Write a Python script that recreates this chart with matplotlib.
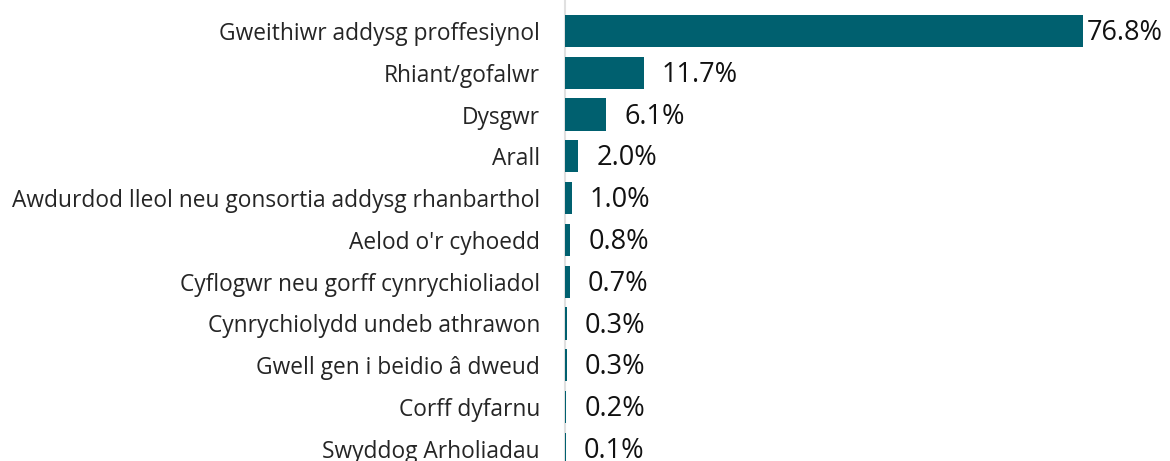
import matplotlib.pyplot as plt

plt.rcParams['font.family'] = ['Open Sans', 'DejaVu Sans']

categories = [
    'Gweithiwr addysg proffesiynol',
    'Rhiant/gofalwr',
    'Dysgwr',
    'Arall',
    'Awdurdod lleol neu gonsortia addysg rhanbarthol',
    "Aelod o'r cyhoedd",
    'Cyflogwr neu gorff cynrychioliadol',
    'Cynrychiolydd undeb athrawon',
    'Gwell gen i beidio â dweud',
    'Corff dyfarnu',
    'Swyddog Arholiadau',
]
values = [76.8, 11.7, 6.1, 2.0, 1.0, 0.8, 0.7, 0.3, 0.3, 0.2, 0.1]

bar_color = '#00606f'

fig = plt.figure(figsize=(11.7, 4.61), dpi=100)
ax = fig.add_axes([565 / 1170, 0, 605 / 1170, 1])

pos = list(range(len(categories)))
ax.barh(pos, values, height=0.77, color=bar_color, zorder=2)

ax.set_xlim(0, 89.7)
ax.set_ylim(10.29, -0.74)

ax.set_yticks(pos)
ax.set_yticklabels(categories, fontsize=16.4, color='#252525')
ax.tick_params(axis='y', length=0, pad=18)
ax.set_xticks([])

for s in ['top', 'right', 'bottom']:
    ax.spines[s].set_visible(False)
ax.spines['left'].set_color('#e0e0e0')
ax.spines['left'].set_linewidth(1.5)
ax.spines['left'].set_zorder(1)

# value labels to the right of each bar
for i, v in enumerate(values):
    off = 3 if v == max(values) else 13
    ax.annotate(f'{v:.1f}%', xy=(v, i), xytext=(off, -1.5), textcoords='offset points',
                va='center', ha='left', fontsize=19.5, color='#111111')

fig.savefig('out.png', dpi=100)
